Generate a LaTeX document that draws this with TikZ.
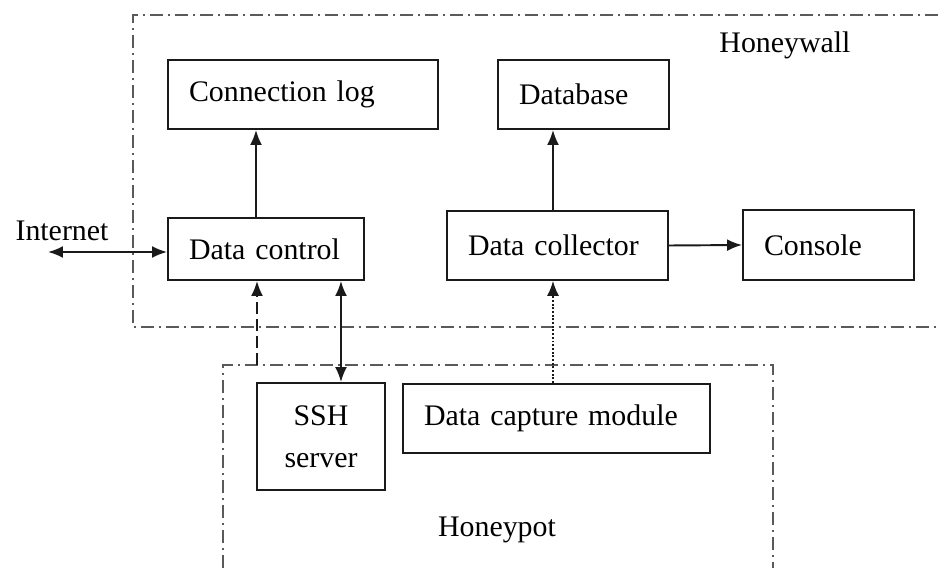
\documentclass[tikz,border=0pt]{standalone}
\usepackage{fontspec}
\setmainfont[WordSpace=0.7]{Liberation Serif}
\usetikzlibrary{arrows.meta, positioning, calc}
\definecolor{framegray}{HTML}{5A5A5A}
\definecolor{inkblack}{HTML}{1A1A1A}

\begin{document}
\begin{tikzpicture}[x=0.02cm, y=-0.02cm,
	font=\fontsize{17}{20}\selectfont,
	blockbox/.style={draw=inkblack, line width=1.1pt, inner xsep=0.42cm, inner ysep=0pt,
		align=left, minimum height=1.38cm},
	zonebox/.style={framegray, line width=1.3pt,
		dash pattern=on 0.26cm off 0.1cm on 0.04cm off 0.1cm},
	link/.style={inkblack, line width=1.1pt, -{Latex[length=0.3cm,width=0.24cm]}},
	bilink/.style={link, {Latex[length=0.3cm,width=0.24cm]}-{Latex[length=0.3cm,width=0.24cm]}},
	]
	\useasboundingbox (0,0) rectangle (938,568);
	% zones
	\draw[zonebox] (938,15) -- (133,15) -- (133,327) -- (938,327);
	\draw[zonebox] (223,568) -- (223,365) -- (773,365) -- (773,568);
	\node (honeywall) at (785,45) {Honeywall};
	\node (honeypot) at (497,530) {Honeypot};
	\node (internet) at (62,231) {Internet};
	% honeywall blocks
	\node[blockbox, text width=4.56cm] (clog) at (303,94.5) {Connection log};
	\node[blockbox, text width=2.58cm] (db) at (583.5,94.5) {Database};
	\node[blockbox, text width=3.08cm, minimum height=1.24cm] (dctrl) at (266,249) {Data control};
	\node[blockbox, text width=3.58cm] (dcoll) at (557.5,245.5) {Data collector};
	\node[blockbox, text width=2.58cm, minimum height=1.4cm] (console) at (828.5,245) {Console};
	% honeypot blocks
	\node[blockbox, align=center, text width=1.72cm, minimum height=2.14cm,
		font=\fontsize{17}{24}\selectfont] (ssh) at (321,436.5) {SSH\\server};
	\node[blockbox, text width=5.3cm] (dcap) at (556.5,418.5) {Data capture module};
	% connectors
	\coordinate (inet) at (48,252);
	\coordinate (hptop) at (257,365);
	\draw[bilink] (inet) -- (inet -| dctrl.west);
	\draw[link] ([xshift=-0.2cm]dctrl.north) -- ([xshift=-0.2cm]dctrl.north |- clog.south);
	\draw[link] ([xshift=-0.09cm]dcoll.north) -- ([xshift=-0.09cm]dcoll.north |- db.south);
	\draw[link] (dcoll.east) -- (console.west);
	\draw[link, dash pattern=on 0.24cm off 0.1cm] (hptop) -- (hptop |- dctrl.south);
	\draw[bilink] ([xshift=1.5cm]dctrl.south) -- ([xshift=1.5cm]dctrl.south |- ssh.north);
	\draw[link, densely dotted, line width=0.8pt] ([xshift=-0.07cm]dcap.north) -- ([xshift=-0.07cm]dcap.north |- dcoll.south);
\end{tikzpicture}
\end{document}
